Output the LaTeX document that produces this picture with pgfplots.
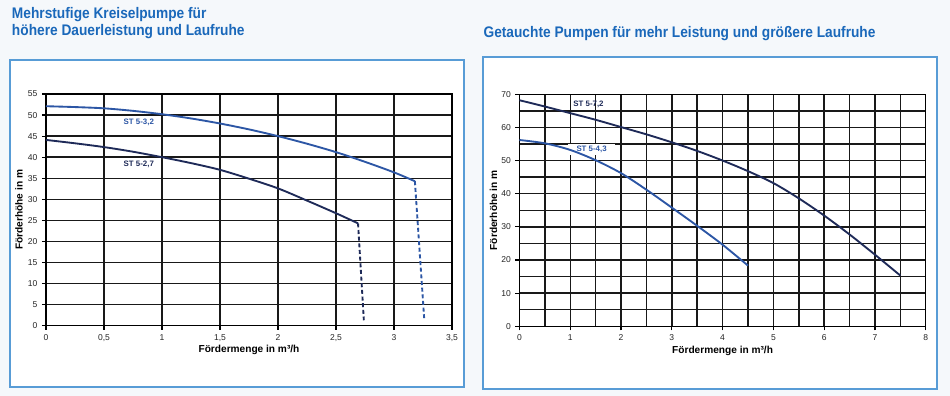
\documentclass[border=0pt]{standalone}
\usepackage{fontspec}
\setmainfont{Liberation Sans}
\newfontfamily\titlefont[FakeStretch=0.895]{Liberation Sans}
\usepackage{pgfplots}
\pgfplotsset{compat=1.18}
\definecolor{titleblue}{RGB}{26,104,186}
\definecolor{frameblue}{RGB}{88,156,214}
\definecolor{cblue}{RGB}{44,86,165}
\definecolor{cnavy}{RGB}{30,42,88}
\definecolor{bgc}{RGB}{245,248,251}
\definecolor{gridc}{RGB}{25,25,25}
\tikzset{lab/.style={font=\fontsize{5.9}{6.5}\selectfont\bfseries}}
\pgfplotsset{
  pumpaxis/.style={
    scale only axis,
    xmin=0, ymin=0,
    tick align=outside, xtick pos=left, ytick pos=left,
    major tick length=3pt, minor tick length=0pt,
    tick style={black, line width=0.9pt},
    axis line style={black, line width=1.1pt},
    grid=both,
    major grid style={gridc, line width=1.1pt},
    minor grid style={gridc, line width=1.1pt},
    ticklabel style={font=\fontsize{6.4}{7}\selectfont, text=black!85},
    /pgf/number format/assume math mode=true,
    label style={font=\fontsize{7.6}{9}\selectfont\bfseries},
    xlabel style={at={(axis description cs:0.5,0)}, anchor=center, yshift=-18.2pt},
    ylabel style={at={(axis description cs:0,0.5)}, anchor=center},
    xlabel={Fördermenge in m³/h},
    ylabel={Förderhöhe in m},
  },
}
\begin{document}
\begin{tikzpicture}
% background and frames
\fill[bgc] (0,0) rectangle (712.5pt,297pt);
\draw[frameblue, line width=1.1pt, fill=white] (7.5pt,6.75pt) rectangle (348pt,252pt);
\draw[frameblue, line width=1.1pt, fill=white] (362.25pt,5.25pt) rectangle (702.75pt,254.25pt);
% titles
\node[anchor=base west, inner sep=0, text=titleblue, font=\titlefont\bfseries\fontsize{11.5}{13}\selectfont] at (8.8pt,283.3pt) {Mehrstufige Kreiselpumpe für};
\node[anchor=base west, inner sep=0, text=titleblue, font=\titlefont\bfseries\fontsize{11.5}{13}\selectfont] at (8.8pt,270pt) {höhere Dauerleistung und Laufruhe};
\node[anchor=base west, inner sep=0, text=titleblue, font=\titlefont\bfseries\fontsize{11.5}{13}\selectfont] at (362.5pt,268.7pt) {Getauchte Pumpen für mehr Leistung und größere Laufruhe};

% left chart
\begin{axis}[pumpaxis,
  at={(34.5pt,52.7pt)}, anchor=south west,
  width=304.5pt, height=173.8pt,
  xmax=3.5, ymax=55,
  xtick={0,0.5,1,1.5,2,2.5,3,3.5},
  xticklabels={0,{0,5},1,{1,5},2,{2,5},3,{3,5}},
  ytick={0,5,...,55},
  ylabel style={yshift=20.3pt},
]
\addplot[cblue, line width=1.4pt, smooth] coordinates {
(0,52.1)(0.25,51.9)(0.5,51.6)(0.75,51.0)(1,50.2)(1.25,49.2)(1.5,48.0)(1.75,46.6)(2,45.0)(2.25,43.2)(2.5,41.2)(2.75,38.9)(3,36.4)(3.18,34.3)};
\addplot[cblue, line width=1.4pt, dash pattern=on 3pt off 2pt] coordinates {(3.18,34.3)(3.26,1.8)};
\addplot[cnavy, line width=1.4pt, smooth] coordinates {
(0,44.1)(0.25,43.3)(0.5,42.4)(0.75,41.3)(1,40.0)(1.25,38.6)(1.5,37.0)(1.75,34.9)(2,32.6)(2.25,29.7)(2.5,26.7)(2.69,24.3)};
\addplot[cnavy, line width=1.4pt, dash pattern=on 3pt off 2pt] coordinates {(2.69,24.3)(2.74,1.3)};
\node[lab, text=cblue] at (axis cs:0.8,48.3) {ST 5-3,2};
\node[lab, text=cnavy] at (axis cs:0.8,38.2) {ST 5-2,7};
\end{axis}

% right chart
\begin{axis}[pumpaxis,
  at={(389.6pt,52.3pt)}, anchor=south west,
  width=304.7pt, height=174pt,
  xmax=8, ymax=70,
  xtick={0,1,...,8}, minor xtick={0.5,1.5,...,7.5},
  ytick={0,10,...,70}, minor ytick={5,15,...,65},
  ylabel style={yshift=19.5pt},
]
\node[lab, text=cblue, fill=white, inner xsep=6pt, inner ysep=1.5pt] at (axis cs:1.42,53.3) {ST 5-4,3};
\node[lab, text=cnavy] at (axis cs:1.36,66.9) {ST 5-7,2};
\addplot[cnavy, line width=1.4pt, smooth] coordinates {
(0,68.2)(0.5,66.3)(1,64.3)(1.5,62.3)(2,60.1)(2.5,57.9)(3,55.5)(3.5,52.9)(4,50.0)(4.5,46.8)(5,43.2)(5.5,38.6)(6,33.4)(6.5,27.7)(7,21.6)(7.5,15.3)};
\addplot[cblue, line width=1.4pt, smooth] coordinates {
(0,56.2)(0.5,55.2)(1,53.2)(1.5,50.1)(2,46.2)(2.5,41.2)(3,35.8)(3.5,30.3)(4,24.6)(4.5,18.3)};
\end{axis}
\end{tikzpicture}
\end{document}
